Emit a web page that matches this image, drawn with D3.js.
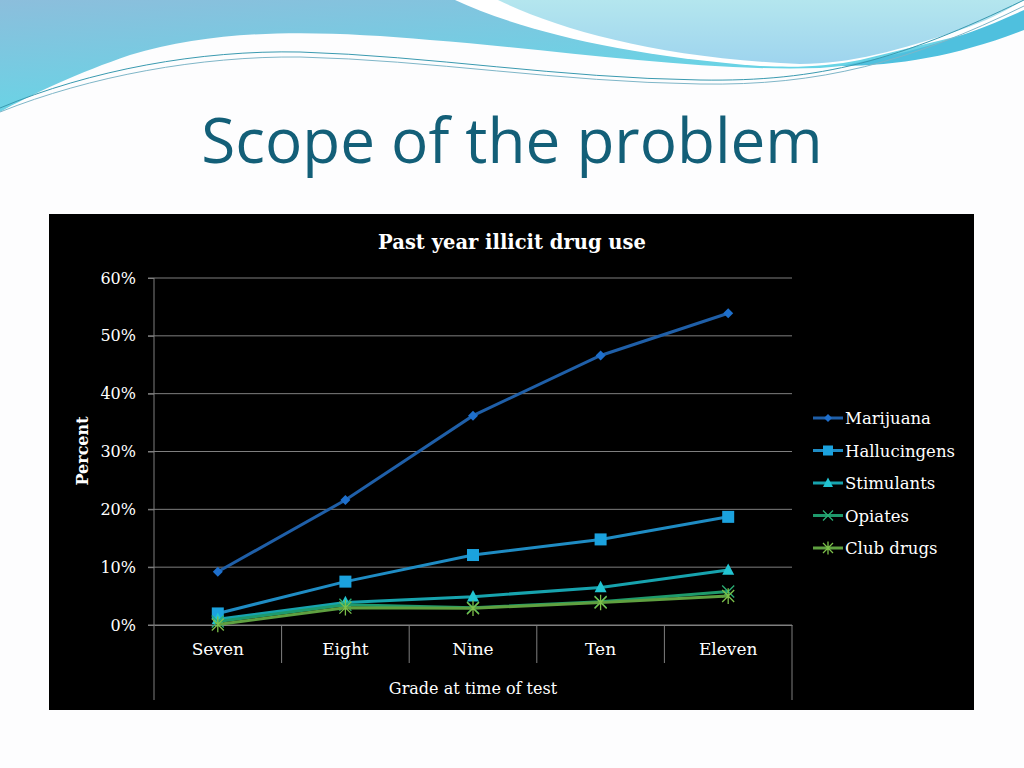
<!DOCTYPE html>
<html><head><meta charset="utf-8">
<script src="https://cdn.jsdelivr.net/npm/d3@7"></script>
<style>html,body{margin:0;padding:0;background:#fff;}svg{display:block;}</style>
</head><body>
<script>
const categories = ["Seven","Eight","Nine","Ten","Eleven"];
const seriesNames = ["Marijuana","Hallucingens","Stimulants","Opiates","Club drugs"];
const marijuana    = [9.2, 21.6, 36.2, 46.6, 53.9];
const hallucingens = [2.0, 7.5, 12.1, 14.8, 18.7];
const stimulants   = [1.0, 3.9, 4.9, 6.5, 9.5];
const opiates      = [0.6, 3.5, 3.0, 4.0, 5.8];
const clubDrugs    = [0.1, 3.0, 2.9, 3.9, 5.0];
const yTicks = [0,10,20,30,40,50,60];

const seriesValues = [marijuana, hallucingens, stimulants, opiates, clubDrugs];
const lineColors   = ["#1F5FA8","#1F8CC4","#17A3AE","#1E9A6C","#5FA040"];
const markColors   = ["#1E6FCC","#1BA2DE","#22C4D2","#2AAE74","#7CC04A"];
const markTypes    = ["diamond","square","triangle","x","star"];

const W=1024,H=768;
const svg = d3.select("body").append("svg").attr("width",W).attr("height",H);

// ---- decorative header ----
const defs = svg.append("defs");
const g1 = defs.append("linearGradient").attr("id","gBlue").attr("x1","0").attr("y1","0").attr("x2","0.6").attr("y2","1");
g1.append("stop").attr("offset","0").attr("stop-color","#8CBEDC");
g1.append("stop").attr("offset","1").attr("stop-color","#5EDAE8");
const g2 = defs.append("linearGradient").attr("id","gCyan").attr("x1","0").attr("y1","0").attr("x2","0").attr("y2","1");
g2.append("stop").attr("offset","0").attr("stop-color","#B4E6EE");
g2.append("stop").attr("offset","1").attr("stop-color","#9ED4EE");

svg.append("rect").attr("width",W).attr("height",H).attr("fill","#FDFDFE");
svg.append("path").attr("fill","url(#gBlue)")
  .attr("d","M0,0 L1024,0 L1024,20 C960,45 900,62 820,68 C700,72 560,50 430,40 C320,30 220,28 130,55 C80,72 30,95 0,112 Z");
svg.append("path").attr("fill","#FFFFFF")
  .attr("d","M455,0 C520,30 620,55 760,66 C800,68 830,66 860,60 L1024,20 L1024,0 Z");
svg.append("path").attr("fill","url(#gCyan)")
  .attr("d","M498,0 C560,30 660,58 800,64 C850,64 900,50 960,30 C990,20 1010,8 1024,0 Z");
svg.append("path").attr("fill","#4FC0DE")
  .attr("d","M840,66 C900,55 960,40 1024,10 L1024,30 C960,55 900,66 840,66 Z");
svg.append("path").attr("fill","none").attr("stroke","#3A9AB0").attr("stroke-width",1)
  .attr("d","M0,108 C90,70 200,50 300,52 C430,56 560,78 700,80 C820,82 900,60 1024,0");
svg.append("path").attr("fill","none").attr("stroke","#7FB6C8").attr("stroke-width",1)
  .attr("d","M0,112 C90,76 200,56 300,57 C430,60 560,82 700,84 C820,86 910,62 1024,6");

// slide title
svg.append("text").attr("x",512).attr("y",163).attr("text-anchor","middle")
  .attr("font-family","'Open Sans', sans-serif").attr("font-size",62)
  .attr("fill","#135F78").text("Scope of the problem");

// ---- chart ----
svg.append("rect").attr("x",49).attr("y",214).attr("width",925).attr("height",496).attr("fill","#000");

const FONT = "'DejaVu Serif', serif";
const x0=154,x1=792,y0=625,y1=278;
const x = d3.scaleBand().domain(categories).range([x0,x1]);
const y = d3.scaleLinear().domain([0,60]).range([y0,y1]);

svg.append("text").attr("x",512).attr("y",249).attr("text-anchor","middle")
  .attr("font-family",FONT).attr("font-weight","bold").attr("font-size",19.5)
  .attr("fill","#fff").text("Past year illicit drug use");

svg.append("g").selectAll("line").data(yTicks).join("line")
  .attr("x1",x0-6).attr("x2",x1).attr("y1",d=>y(d)).attr("y2",d=>y(d))
  .attr("stroke","#7F7F7F").attr("stroke-width",1);

const yAxis = d3.axisLeft(y).tickValues(yTicks).tickFormat(d=>d+"%").tickSize(6).tickPadding(12);
const ya = svg.append("g").attr("transform",`translate(${x0},0)`).call(yAxis);
ya.select(".domain").remove();
ya.selectAll("line").attr("stroke","#7F7F7F");
ya.selectAll("text").attr("fill","#fff").attr("font-family",FONT).attr("font-size",16);
svg.append("line").attr("x1",x0).attr("x2",x0).attr("y1",y1).attr("y2",700).attr("stroke","#7F7F7F");

const seps = categories.map((c,i)=>x(c)+x.bandwidth());
svg.append("g").selectAll("line").data(seps).join("line")
  .attr("x1",d=>d).attr("x2",d=>d).attr("y1",y0).attr("y2",(d,i)=>i===seps.length-1?700:663)
  .attr("stroke","#7F7F7F");
const xAxis = d3.axisBottom(x).tickSize(0).tickPadding(18);
const xa = svg.append("g").attr("transform",`translate(0,${y0})`).call(xAxis);
xa.select(".domain").attr("stroke","#7F7F7F");
xa.selectAll("text").attr("fill","#fff").attr("font-family",FONT).attr("font-size",17);

svg.append("text").attr("x",473).attr("y",694).attr("text-anchor","middle")
  .attr("font-family",FONT).attr("font-size",16).attr("fill","#fff").text("Grade at time of test");
svg.append("text").attr("transform","translate(88,451) rotate(-90)").attr("text-anchor","middle")
  .attr("font-family",FONT).attr("font-weight","bold").attr("font-size",16).attr("fill","#fff").text("Percent");

function marker(sel,type,color,s){
  if(type==="diamond"){
    sel.append("path").attr("d",`M0,${-s}L${s},0L0,${s}L${-s},0Z`).attr("fill",color);
  } else if(type==="square"){
    sel.append("rect").attr("x",-s).attr("y",-s).attr("width",2*s).attr("height",2*s).attr("fill",color);
  } else if(type==="triangle"){
    sel.append("path").attr("d",`M0,${-s*1.1}L${s},${s*0.8}L${-s},${s*0.8}Z`).attr("fill",color);
  } else if(type==="x"){
    sel.append("path").attr("d",`M${-s},${-s}L${s},${s}M${-s},${s}L${s},${-s}`).attr("stroke",color).attr("stroke-width",1.3);
  } else {
    sel.append("path").attr("d",`M${-s},${-s}L${s},${s}M${-s},${s}L${s},${-s}M0,${-s*1.3}L0,${s*1.3}`).attr("stroke",color).attr("stroke-width",1.3);
  }
}
const sizes=[5,6,6,6,6];
const line = d3.line().x((d,i)=>x(categories[i])+x.bandwidth()/2).y(d=>y(d));
seriesValues.forEach((vals,k)=>{
  svg.append("path").datum(vals).attr("d",line).attr("fill","none")
    .attr("stroke",lineColors[k]).attr("stroke-width",3);
  const pts = svg.append("g").selectAll("g").data(vals).join("g")
    .attr("transform",(d,i)=>`translate(${x(categories[i])+x.bandwidth()/2},${y(d)})`);
  pts.each(function(){ marker(d3.select(this),markTypes[k],markColors[k],sizes[k]); });
});

const lg = svg.append("g");
seriesNames.forEach((n,k)=>{
  const yy = 418 + k*32.5;
  lg.append("line").attr("x1",813).attr("x2",843).attr("y1",yy).attr("y2",yy)
    .attr("stroke",lineColors[k]).attr("stroke-width",3);
  marker(lg.append("g").attr("transform",`translate(828,${yy})`),markTypes[k],markColors[k],sizes[k]-1);
  lg.append("text").attr("x",845).attr("y",yy+6).attr("font-family",FONT).attr("font-size",16.5)
    .attr("fill","#fff").text(n);
});
</script>
</body></html>
